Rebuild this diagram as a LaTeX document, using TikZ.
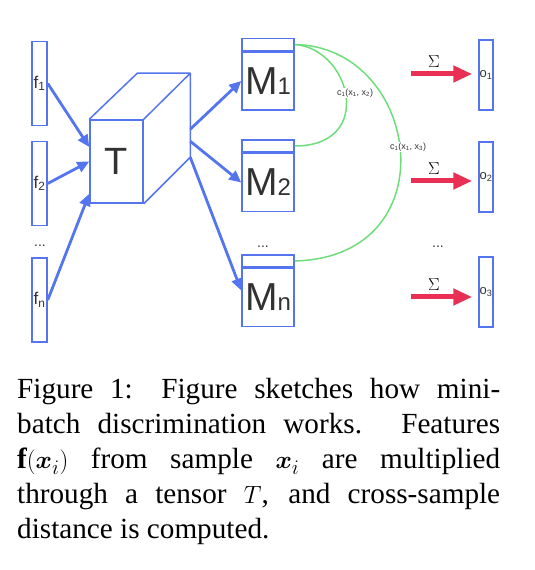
\documentclass[tikz,border=0pt]{standalone}
\usepackage{amsmath,bm}
\usepackage{fontspec}
\setmainfont{Liberation Serif}
\newfontfamily\diagfont{Liberation Sans}
\usetikzlibrary{arrows.meta,calc}
\definecolor{boxblue}{RGB}{84,117,238}
\definecolor{arcgreen}{RGB}{110,222,125}
\definecolor{sumred}{RGB}{233,47,84}
\definecolor{labelgray}{RGB}{50,50,50}

\begin{document}
\begin{tikzpicture}[x=1pt,y=1pt]
    \tikzstyle{vec}=[draw=boxblue,line width=1.5pt,minimum width=15pt,minimum height=84pt,inner sep=0,text=labelgray,font={\diagfont\fontsize{17}{17}\selectfont}]
    \tikzstyle{out vec}=[vec,minimum width=14pt,minimum height=70pt,font={\diagfont\fontsize{13}{13}\selectfont}]
    \tikzstyle{face}=[draw=boxblue,line width=1.5pt,minimum width=53pt,minimum height=83pt,inner sep=0,text=labelgray,font={\diagfont\fontsize{38}{38}\selectfont}]
    \tikzstyle{mat}=[draw=boxblue,line width=1.5pt,minimum width=52pt,minimum height=58pt,inner sep=0,text=labelgray,font={\diagfont\fontsize{39}{39}\selectfont}]
    \tikzstyle{head}=[draw=boxblue,line width=1.5pt,minimum width=52pt,minimum height=12pt,inner sep=0,anchor=south]
    \tikzstyle{edge}=[draw=boxblue,line width=1.5pt,line join=round]
    \tikzstyle{flow}=[draw=boxblue,line width=2.8pt,-{Triangle[length=12pt,width=11pt]}]
    \tikzstyle{arc}=[draw=arcgreen,line width=1.5pt]
    \tikzstyle{cdist}=[fill=white,inner sep=1pt,text=labelgray,font={\diagfont\fontsize{9}{9}\selectfont}]
    \tikzstyle{sum}=[draw=sumred,line width=5pt,shorten >=6pt,-{Triangle[length=19pt,width=16pt]}]
    \tikzstyle{sigma}=[above=4pt,inner sep=0,font=\fontsize{17}{17}\selectfont]
    \tikzstyle{dots}=[inner sep=0,text=labelgray,font={\diagfont\fontsize{14}{14}\selectfont}]
    \tikzstyle{caption}=[anchor=base west,text width=483pt,align=justify,inner sep=0,font=\fontsize{29.2}{35}\selectfont]

    \useasboundingbox (0,0) rectangle (535,570);

    \node[vec] (f1) at (39.5,486.5) {f\textsubscript{1}};
    \node[vec] (f2) at (39.5,386.5) {f\textsubscript{2}};
    \node[vec] (fn) at (39.5,270) {f\textsubscript{n}};
    \node[dots] (fdots) at (40,324) {...};

    \node[face] (T) at (116.5,408.5) {T};
    \draw[edge] (T.north west) -- ++(48,46) -- ++(53,0) coordinate (Tb) -- (T.north east)
        (Tb) -- ++(0,-84) -- (T.south east);

    \node[mat] (M1) at (268,489) {M{\fontsize{24}{24}\selectfont 1}};
    \node[head] (h1) at (M1.north) {};
    \node[mat] (M2) at (268,387.5) {M{\fontsize{24}{24}\selectfont 2}};
    \node[head] (h2) at (M2.north) {};
    \node[mat] (Mn) at (268,272.5) {M{\fontsize{24}{24}\selectfont n}};
    \node[head] (hn) at (Mn.north) {};
    \node[dots] (Mdots) at (263,323) {...};

    \draw[flow] (f1.east) -- ($(T.west)+(0,14.5)$);
    \draw[flow] (f2.east) -- (T.west);
    \draw[flow] (fn.east) -- ($(T.south west)+(0,10)$);
    \draw[flow] ($(Tb)+(0,-56)$) -- (M1.west);
    \draw[flow] ($(Tb)+(0,-68)$) -- (M2.west);
    \draw[flow] ($(Tb)+(0,-84)$) -- ($(Mn.west)+(0,7)$);

    \draw[arc] (h1.east) .. controls +(56,-4) and +(81,0) .. (h2.east);
    \draw[arc] (h1.east) .. controls +(126,-2) and +(156,4) .. (hn.east);
    \node[cdist] (c12) at (355,477) {c\textsubscript{1}(x\textsubscript{1}, x\textsubscript{2})};
    \node[cdist] (c13) at (408,423) {c\textsubscript{1}(x\textsubscript{1}, x\textsubscript{3})};

    \node[out vec] (o1) at (486,495) {o\textsubscript{1}};
    \node[out vec] (o2) at (486,393) {o\textsubscript{2}};
    \node[out vec] (o3) at (486,278) {o\textsubscript{3}};
    \node[dots] (odots) at (438,323) {...};

    \coordinate (s1) at (411,496);
    \coordinate (s2) at (411,389);
    \coordinate (s3) at (411,273);
    \draw[sum] (s1) -- (s1 -| o1.west) node[sigma,pos=0.34] (sig1) {$\Sigma$};
    \draw[sum] (s2) -- (s2 -| o2.west) node[sigma,pos=0.34] (sig2) {$\Sigma$};
    \draw[sum] (s3) -- (s3 -| o3.west) node[sigma,pos=0.34] (sig3) {$\Sigma$};

    \node[caption] (cap) at (17,171) {Figure 1: Figure sketches how mini-\linebreak
        batch discrimination works. Features\linebreak
        $\mathbf{f}(\bm{x}_i)$ from sample $\bm{x}_i$ are multiplied\linebreak
        through a tensor $T$, and cross-sample\linebreak
        distance is computed.};
\end{tikzpicture}
\end{document}
